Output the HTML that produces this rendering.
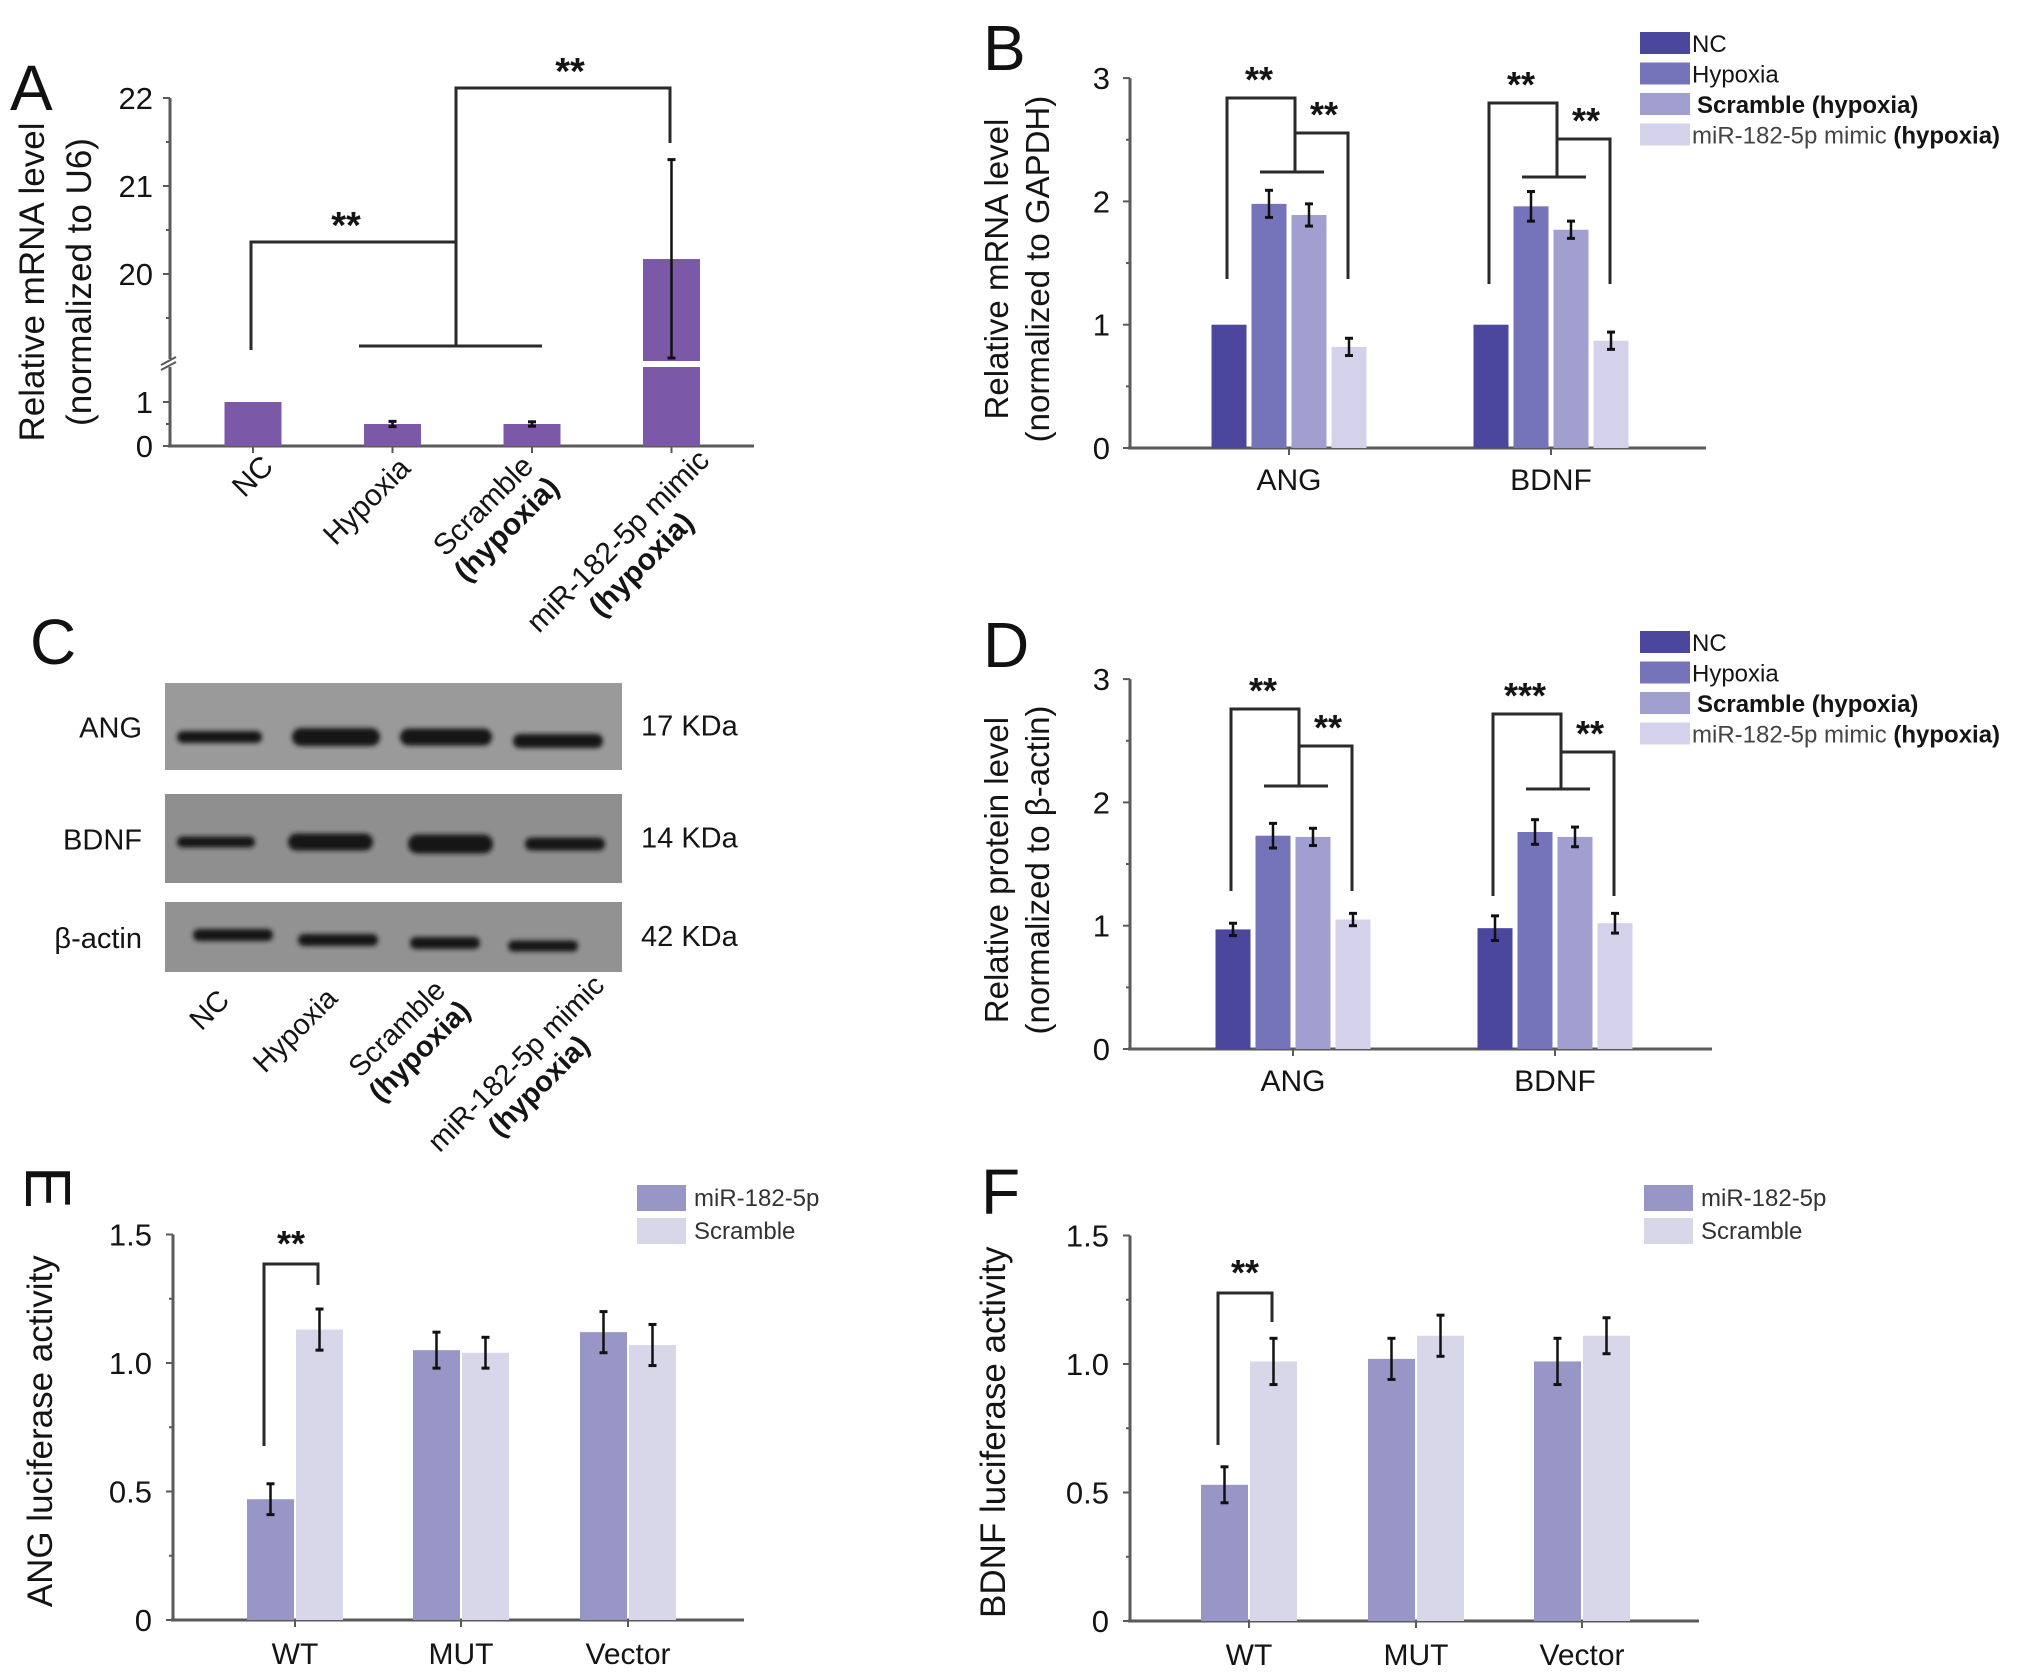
<!DOCTYPE html>
<html><head><meta charset="utf-8">
<style>
html,body{margin:0;padding:0;background:#fff;}
svg{display:block;font-family:"Liberation Sans",Arial,sans-serif;}
</style></head>
<body>
<svg id="fig" width="2031" height="1678" viewBox="0 0 2031 1678" xmlns="http://www.w3.org/2000/svg">
<defs>
<filter id="blur" x="-20%" y="-50%" width="140%" height="200%"><feGaussianBlur stdDeviation="2.5"/></filter>
</defs>
</svg>
<script>
// ---------- DATA ----------
// Panel A
const aCategories = ["NC","Hypoxia","Scramble","miR-182-5p mimic"];
const aValues = [1.0, 0.5, 0.5, 20.17];
const aErrors = [0, 0.06, 0.05, 1.13];
// Panel B
const bGenes = ["ANG","BDNF"];
const bSeries = ["NC","Hypoxia","Scramble (hypoxia)","miR-182-5p mimic (hypoxia)"];
const bNC = [1.0, 1.0];
const bHypoxia = [1.98, 1.96];
const bScramble = [1.89, 1.77];
const bMimic = [0.82, 0.87];
const bErrNC = [0, 0];
const bErrHypoxia = [0.11, 0.12];
const bErrScramble = [0.09, 0.07];
const bErrMimic = [0.07, 0.07];
const bTicks = [0,1,2,3];
// Panel D
const dNC = [0.97, 0.98];
const dHypoxia = [1.73, 1.76];
const dScramble = [1.72, 1.72];
const dMimic = [1.05, 1.02];
const dErrNC = [0.05, 0.1];
const dErrHypoxia = [0.1, 0.1];
const dErrScramble = [0.07, 0.08];
const dErrMimic = [0.05, 0.08];
// Panel E
const eCategories = ["WT","MUT","Vector"];
const eMiR = [0.47, 1.05, 1.12];
const eScramble = [1.13, 1.04, 1.07];
const eErrMiR = [0.06, 0.07, 0.08];
const eErrScramble = [0.08, 0.06, 0.08];
const eTicks = ["0","0.5","1.0","1.5"];
// Panel F
const fMiR = [0.53, 1.02, 1.01];
const fScramble = [1.01, 1.11, 1.11];
const fErrMiR = [0.07, 0.08, 0.09];
const fErrScramble = [0.09, 0.08, 0.07];

// ---------- HELPERS ----------
const NS="http://www.w3.org/2000/svg";
const svg=document.getElementById('fig');
function mk(tag,attrs,parent,text){const e=document.createElementNS(NS,tag);for(const k in attrs)e.setAttribute(k,attrs[k]);if(text!==undefined)e.textContent=text;(parent||svg).appendChild(e);return e;}
const AX="#5a5a5a";
const TC="#141414";
function line(x1,y1,x2,y2,p,w,c){const l=mk('line',{x1,y1,x2,y2,stroke:c||AX,'stroke-width':w||3},p);return l;}
function pline(pts,p,name){const e=mk('polyline',{points:pts.map(q=>q.join(',')).join(' '),fill:'none',stroke:'#2a2a2a','stroke-width':3},p);return e;}
function txt(x,y,s,attrs,p,name){const t=mk('text',Object.assign({x,y},attrs||{}),p,s);return t;}
function errbar(x,y1,y2,p){const g=mk('g',{},p);mk('line',{x1:x,y1:y1,x2:x,y2:y2,stroke:'#111','stroke-width':2.5},g);mk('line',{x1:x-4,y1:y1,x2:x+4,y2:y1,stroke:'#111','stroke-width':3},g);mk('line',{x1:x-4,y1:y2,x2:x+4,y2:y2,stroke:'#111','stroke-width':3},g);}
function bar(x,y,w,h,fill,p,name){const r=mk('rect',{x,y,width:w,height:h,fill},p);return r;}
function panelLetter(s,x,y,rot){const t=txt(x,y,s,{'font-size':64,fill:'#111'},svg,'panel-letter-'+s.toLowerCase());if(rot)t.setAttribute('transform',rot);return t;}

// ---------- PANEL A ----------
(function(){
  const g=mk('g',{});
  panelLetter('A',10,110);
  const x0=170,xEnd=754;
  function yA(v){return v<=1.5?446-v*44:274-(v-20)*88;}
  line(x0,98,x0,446,g);line(x0-2,446,xEnd,446,g);
  [[0,'0'],[1,'1']].forEach(t=>{line(x0-7,yA(t[0]),x0,yA(t[0]),g,2);txt(153,yA(t[0])+11,t[1],{'font-size':31,'text-anchor':'end',fill:TC},g,'y-tick-label');});
  [20,21,22].forEach(v=>{line(x0-7,yA(v),x0,yA(v),g,2);txt(153,yA(v)+11,String(v),{'font-size':31,'text-anchor':'end',fill:TC},g,'y-tick-label');});
  [0.5,20.5,21.5,19.5].forEach(v=>line(x0-4,yA(v),x0,yA(v),g,2));
  mk('rect',{x:x0-6,y:359,width:12,height:8,fill:'#fff'},g);
  line(x0-9,365,x0+6,357,g,2);line(x0-9,370,x0+6,362,g,2);
  const tt=mk('text',{transform:'translate(44,282) rotate(-90)','text-anchor':'middle','font-size':35,fill:TC},g);
  
  mk('tspan',{x:0,y:0},tt,'Relative mRNA level');mk('tspan',{x:0,y:47},tt,'(normalized to U6)');
  const step=139.5, cx0=253, bw=57;
  aCategories.forEach((c,i)=>{
    const cx=cx0+i*step, y=yA(aValues[i]);
    bar(cx-bw/2,y,bw,446-y,'#7b58a8',g,'bar-'+c.toLowerCase().replace(/[^a-z0-9]+/g,'-'));
    line(cx,446,cx,453,g,2);
    if(aErrors[i]>0){
      const top=yA(aValues[i]+aErrors[i]);
      const bot=aValues[i]>10?358:yA(aValues[i]-aErrors[i]);
      errbar(cx,top,bot,g);
    }
  });
  mk('rect',{x:cx0+3*step-bw/2-1,y:361,width:bw+2,height:6,fill:'#fff'},g);
  const lab=[["NC",null],["Hypoxia",null],["Scramble","(hypoxia)"],["miR-182-5p mimic","(hypoxia)"]];
  const ends=[[275,468],[412,470],[535,468],[711,462]];
  lab.forEach((l,i)=>{
    const gg=mk('g',{transform:`translate(${ends[i][0]},${ends[i][1]}) rotate(-45)`},g);
    
    const t1=mk('text',{x:0,y:0,'text-anchor':'end','font-size':30,fill:TC},gg,l[0]);
    if(l[1]){const w=t1.getComputedTextLength();mk('text',{x:-w/2,y:33,'text-anchor':'middle','font-size':30,'font-weight':'bold',fill:TC},gg,l[1]);}
  });
  pline([[251,350],[251,242],[456,242],[456,346]],g,'significance-bracket');
  line(359,346,542,346,g,3,'#2a2a2a');
  txt(346,238,'**',{'font-size':38,'text-anchor':'middle','font-weight':'bold',fill:TC},g,'significance-stars');
  pline([[456,242],[456,88],[670,88],[670,143]],g,'significance-bracket');
  txt(570,84,'**',{'font-size':38,'text-anchor':'middle','font-weight':'bold',fill:TC},g,'significance-stars');
})();

// ---------- GROUPED 4-SERIES PANEL (B, D) ----------
const colors4=["#4a479c","#7573ba","#a19fcf","#d3d2ea"];
function panel4(o){
  const g=mk('g',{});
  const y=v=>o.y0-v*o.unit;
  line(o.x0,y(3),o.x0,o.y0,g);line(o.x0-2,o.y0,o.xEnd,o.y0,g);
  bTicks.forEach(v=>{line(o.x0-7,y(v),o.x0,y(v),g,2);txt(o.x0-20,y(v)+11,String(v),{'font-size':31,'text-anchor':'end',fill:TC},g,'y-tick-label');});
  [0.5,1.5,2.5].forEach(v=>line(o.x0-4,y(v),o.x0,y(v),g,2));
  const tt=mk('text',{transform:`translate(${o.titleX},${(y(3)+o.y0)/2+6}) rotate(-90)`,'text-anchor':'middle','font-size':33,fill:TC},g);
  
  mk('tspan',{x:0,y:0},tt,o.title1);mk('tspan',{x:0,y:41},tt,o.title2);
  const series=[o.s[0],o.s[1],o.s[2],o.s[3]], errs=[o.e[0],o.e[1],o.e[2],o.e[3]];
  const bw=35, bstep=40;
  bGenes.forEach((gn,gi)=>{
    const c=o.centers[gi];
    line(c,o.y0,c,o.y0+7,g,2);
    txt(c,o.y0+42,gn,{'font-size':30,'text-anchor':'middle',fill:TC},g,'x-tick-label');
    series.forEach((s,si)=>{
      const bx=c-2*bstep+si*bstep+2.5, v=s[gi];
      bar(bx,y(v),bw,o.y0-y(v),colors4[si],g,'bar-'+gn.toLowerCase()+'-'+si);
      if(errs[si][gi]>0)errbar(bx+bw/2,y(v+errs[si][gi]),y(v-errs[si][gi]),g);
    });
  });
  o.br.forEach((b,i)=>{
    const c=o.centers[i];
    pline([[c-62,b.low],[c-62,b.top1],[c+6,b.top1],[c+6,b.mid]],g,'significance-bracket');
    line(c-29,b.mid,c+35,b.mid,g,3,'#2a2a2a');
    pline([[c+6,b.top2],[c+59,b.top2],[c+59,b.low]],g,'significance-bracket');
    txt(c-30,b.top1-6,b.s1,{'font-size':36,'text-anchor':'middle','font-weight':'bold',fill:TC},g,'significance-stars');
    txt(c+35,b.top2-6,b.s2,{'font-size':36,'text-anchor':'middle','font-weight':'bold',fill:TC},g,'significance-stars');
  });
  const lg=mk('g',{},g);
  bSeries.forEach((s,i)=>{
    const ly=o.legY+i*30.5;
    const e=mk('g',{},lg);
    mk('rect',{x:1640,y:ly,width:50,height:22,fill:colors4[i]},e);
    const t=mk('text',{x:1692,y:ly+20,'font-size':24,fill:TC},e);
    if(i==0||i==1)mk('tspan',{},t,s);
    else if(i==2){t.setAttribute('font-weight','bold');t.setAttribute('x',1697);mk('tspan',{},t,s);}
    else{mk('tspan',{fill:'#444'},t,'miR-182-5p mimic ');mk('tspan',{'font-weight':'bold'},t,'(hypoxia)');}
  });
}
panelLetter('B',983,70);
panel4({name:'panel-b',x0:1130,y0:448,unit:123.3,xEnd:1706,centers:[1289,1551],titleX:1008,
  title1:'Relative mRNA level',title2:'(normalized to GAPDH)',
  s:[bNC,bHypoxia,bScramble,bMimic],e:[bErrNC,bErrHypoxia,bErrScramble,bErrMimic],legY:32,
  br:[{low:279,top1:98,mid:172,top2:133,s1:'**',s2:'**'},{low:284,top1:103,mid:177,top2:139,s1:'**',s2:'**'}]});
panelLetter('D',983,667);
panel4({name:'panel-d',x0:1130,y0:1049,unit:123.3,xEnd:1712,centers:[1293,1555],titleX:1008,
  title1:'Relative protein level',title2:'(normalized to \u03b2-actin)',
  s:[dNC,dHypoxia,dScramble,dMimic],e:[dErrNC,dErrHypoxia,dErrScramble,dErrMimic],legY:631,
  br:[{low:891,top1:709,mid:786,top2:746,s1:'**',s2:'**'},{low:896,top1:714,mid:789,top2:752,s1:'***',s2:'**'}]});

// ---------- PANEL C (western blot) ----------
(function(){
  const g=mk('g',{});
  panelLetter('C',30,664);
  const blots=[{y:683,h:87,name:'ANG',kda:'17 KDa',fill:'#9a9a9a'},{y:794,h:89,name:'BDNF',kda:'14 KDa',fill:'#8f8f8f'},{y:902,h:70,name:'\u03b2-actin',kda:'42 KDa',fill:'#929292'}];
  const bands=[
    [[177,262,737,12],[292,380,737,18],[400,492,737,17],[513,603,741,14]],
    [[177,255,842,11],[288,373,842,17],[408,493,844,19],[525,605,844,13]],
    [[193,273,935,12],[298,378,940,12],[410,480,943,12],[508,578,946,11]]];
  blots.forEach((b,i)=>{
    bar(165,b.y,457,b.h,b.fill,g,'blot-'+(i+1));
    bands[i].forEach(bd=>{const e=mk('rect',{x:bd[0],y:bd[2]-bd[3]/2,width:bd[1]-bd[0],height:bd[3],rx:bd[3]/2,fill:'#151515',filter:'url(#blur)'},g);});
    txt(142,b.y+b.h/2+11,b.name,{'font-size':29,'text-anchor':'end',fill:TC},g,'blot-label');
    txt(641,b.y+b.h/2+9,b.kda,{'font-size':29,fill:TC},g,'kda-label');
  });
  const lab=[["NC",null],["Hypoxia",null],["Scramble","(hypoxia)"],["miR-182-5p mimic","(hypoxia)"]];
  const ends=[[231,1002],[339,1000],[447,992],[606,987]];
  lab.forEach((l,i)=>{
    const gg=mk('g',{transform:`translate(${ends[i][0]},${ends[i][1]}) rotate(-45)`},g);
    
    const t1=mk('text',{x:0,y:0,'text-anchor':'end','font-size':29,fill:TC},gg,l[0]);
    if(l[1]){const w=t1.getComputedTextLength();mk('text',{x:-w/2,y:32,'text-anchor':'middle','font-size':29,'font-weight':'bold',fill:TC},gg,l[1]);}
  });
})();

// ---------- 2-SERIES PANEL (E, F) ----------
const colors2=["#9896c6","#d8d7ea"];
function panel2(o){
  const g=mk('g',{});
  const y=v=>o.y0-v*o.unit;
  line(o.x0,y(1.5),o.x0,o.y0,g);line(o.x0-2,o.y0,o.xEnd,o.y0,g);
  eTicks.forEach(s=>{const v=parseFloat(s);line(o.x0-7,y(v),o.x0,y(v),g,2);txt(o.x0-21,y(v)+11,s,{'font-size':31,'text-anchor':'end',fill:TC},g,'y-tick-label');});
  [0.25,0.75,1.25].forEach(v=>line(o.x0-4,y(v),o.x0,y(v),g,2));
  txt(0,0,o.title,{transform:`translate(${o.titleX},${(y(1.5)+o.y0)/2+4}) rotate(-90)`,'text-anchor':'middle','font-size':35,fill:TC},g,'y-axis-title');
  const bw=47;
  eCategories.forEach((c,i)=>{
    const cx=o.centers[i];
    line(cx,o.y0,cx,o.y0+7,g,2);
    txt(cx,o.y0+44,c,{'font-size':30,'text-anchor':'middle',fill:TC},g,'x-tick-label');
    [o.s[0],o.s[1]].forEach((s,si)=>{
      const bx=si==0?cx-bw-1:cx+1, v=s[i], er=o.e[si][i];
      bar(bx,y(v),bw,o.y0-y(v),colors2[si],g,'bar-'+c.toLowerCase()+'-'+si);
      errbar(bx+bw/2,y(v+er),y(v-er),g);
    });
  });
  const c=o.centers[0];
  pline([[c-31,o.br.low],[c-31,o.br.top],[c+23,o.br.top],[c+23,o.br.right]],g,'significance-bracket');
  txt(c-4,o.br.top-8,'**',{'font-size':36,'text-anchor':'middle','font-weight':'bold',fill:TC},g,'significance-stars');
  const lg=mk('g',{},g);
  ["miR-182-5p","Scramble"].forEach((s,i)=>{
    const e=mk('g',{},lg);
    mk('rect',{x:o.legX,y:o.legY+i*33,width:49,height:26,fill:colors2[i]},e);
    mk('text',{x:o.legX+57,y:o.legY+i*33+21,'font-size':24,fill:'#333'},e,s);
  });
}
panelLetter('E',0,0,'translate(26,1166) rotate(90)');
panel2({name:'panel-e',x0:173,y0:1620,unit:257,xEnd:744,centers:[295,461,628],titleX:52,title:'ANG luciferase activity',
  s:[eMiR,eScramble],e:[eErrMiR,eErrScramble],br:{low:1446,top:1264,right:1285},legX:637,legY:1185});
panelLetter('F',981,1214);
panel2({name:'panel-f',x0:1130,y0:1621,unit:257,xEnd:1699,centers:[1249,1416,1582],titleX:1005,title:'BDNF luciferase activity',
  s:[fMiR,fScramble],e:[fErrMiR,fErrScramble],br:{low:1445,top:1293,right:1322},legX:1644,legY:1185});
</script>
</body></html>
